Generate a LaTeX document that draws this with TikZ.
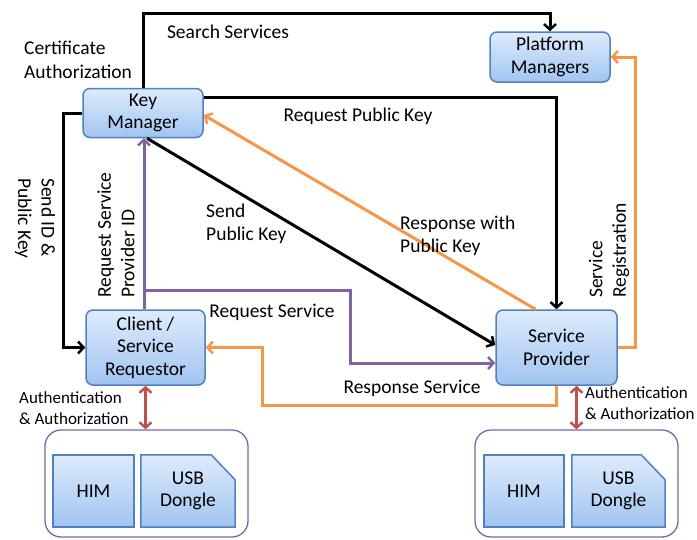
\documentclass[tikz,border=0pt]{standalone}
\usepackage{fontspec}
\setmainfont{Carlito}
\usetikzlibrary{arrows.meta,calc}
\definecolor{bborder}{RGB}{79,129,189}
\definecolor{btop}{RGB}{222,235,252}
\definecolor{bbot}{RGB}{160,196,240}
\definecolor{oran}{RGB}{247,150,70}
\definecolor{purp}{RGB}{128,100,162}
\definecolor{redd}{RGB}{192,80,77}
\tikzset{
  box/.style={draw=bborder, line width=1.5pt, rounded corners=7pt, top color=btop, bottom color=bbot,
    inner sep=0pt, align=center, font=\fontsize{19.5}{22.5}\selectfont},
  sqbox/.style={draw=bborder, line width=1.5pt, top color=btop, bottom color=bbot,
    inner sep=0pt, align=center, font=\fontsize{19.5}{22.5}\selectfont},
  usbshape/.style={draw=bborder, line width=1.5pt, top color=btop, bottom color=bbot},
  plain/.style={inner sep=0pt, align=center, font=\fontsize{19.5}{22.5}\selectfont},
  contain/.style={draw=purp, line width=1.3pt, rounded corners=16pt, inner sep=0pt},
  lbl/.style={inner sep=0pt, align=left, font=\fontsize{19.5}{23.5}\selectfont},
  smlbl/.style={inner sep=0pt, align=left, font=\fontsize{17}{21.5}\selectfont},
  conn/.style={line width=3pt, -{Straight Barb[length=5.5pt,width=12pt,line width=2.5pt]}},
  cconn/.style={line width=3pt, -{Straight Barb[length=5.5pt,width=12pt,line width=2.5pt]}},
  dbl/.style={line width=2.8pt, color=redd, {Straight Barb[length=5.5pt,width=12pt,line width=2.4pt]}-{Straight Barb[length=5.5pt,width=12pt,line width=2.4pt]}}
}
\begin{document}
\begin{tikzpicture}[x=1pt,y=-1pt]
\useasboundingbox (0,0) rectangle (697,539);
% containers
\node[contain, minimum width=203pt, minimum height=107pt] (lc) at (146.5,483.5) {};
\node[contain, minimum width=203pt, minimum height=107pt] (rc) at (576.5,483.5) {};
% main boxes
\node[box, minimum width=120pt, minimum height=49pt] (km) at (143,113) {Key\\Manager};
\node[box, minimum width=120pt, minimum height=50pt] (pm) at (550,57) {Platform\\Managers};
\node[box, minimum width=119pt, minimum height=75pt] (cl) at (145.5,347.5) {Client /\\Service\\Requestor};
\node[box, minimum width=121pt, minimum height=75pt] (sp) at (556.5,347.5) {Service\\Provider};
% devices
\node[sqbox, minimum width=81pt, minimum height=72pt] (him1) at (93.5,491) {HIM};
\node[inner sep=0pt, minimum width=94pt, minimum height=72pt] (usb1) at (188,491) {};
\path[usbshape] (usb1.south west) -- (usb1.north west) -- ([xshift=-24pt]usb1.north east)
  -- ([yshift=-25pt]usb1.north east) -- (usb1.south east) -- cycle;
\node[plain] (usb1t) at (usb1.center) {USB\\Dongle};
\node[sqbox, minimum width=80pt, minimum height=72pt] (him2) at (524,491) {HIM};
\node[inner sep=0pt, minimum width=93pt, minimum height=72pt] (usb2) at (618.5,491) {};
\path[usbshape] (usb2.south west) -- (usb2.north west) -- ([xshift=-24pt]usb2.north east)
  -- ([yshift=-25pt]usb2.north east) -- (usb2.south east) -- cycle;
\node[plain] (usb2t) at (usb2.center) {USB\\Dongle};
% helper coordinates
\coordinate (s1) at (0,13);
\coordinate (c3) at (63,0);
\coordinate (p2) at (350,290);
\coordinate (r1) at (262,405);
\coordinate (r3) at (635,0);
% black connectors
\draw[conn] (km.north) -- (km.north |- s1) -| (pm.north);
\draw[conn] ([yshift=16pt]km.east) -| (sp.north);
\draw[conn] (km.west) -- (km.west -| c3) |- (cl.west);
\draw[conn] ([xshift=4pt]km.south) -- ([yshift=2.5pt]sp.west);
% orange
\draw[cconn, oran] ([xshift=-21pt]sp.north) -- ([yshift=-2pt]km.east);
\draw[cconn, oran] (sp.south) |- (r1) |- (cl.east);
\draw[cconn, oran] (sp.east) -- (sp.east -| r3) |- (pm.east);
% purple
\draw[cconn, purp] ([xshift=-1.5pt]cl.north) -- ([xshift=-1.5pt]cl.north |- km.south);
\draw[cconn, purp] ([xshift=-1.5pt]cl.north |- p2) -- (p2) |- ([yshift=-15.5pt]sp.west);
% red
\draw[dbl] (cl.south) -- (cl.south |- lc.north);
\draw[dbl] (rc.north |- sp.south) -- (rc.north);
% labels
\node[lbl] (t1) at (228,32) {Search Services};
\node[lbl, anchor=west] (t2) at (24,60) {Certificate\\Authorization};
\node[lbl] (t3) at (358,116) {Request Public Key};
\node[lbl, anchor=west, rotate=-90] (t4) at (35,178) {Send ID \&\\Public Key};
\node[lbl, anchor=west, rotate=90] (t5) at (116,298) {Request Service\\Provider ID};
\node[lbl, anchor=west] (t6) at (206,224) {Send\\Public Key};
\node[lbl, anchor=west] (t7) at (400,236) {Response with\\Public Key};
\node[lbl, anchor=west, rotate=90] (t8) at (609,298) {Service\\Registration};
\node[lbl] (t9) at (272,312) {Request Service};
\node[lbl] (t10) at (412,388) {Response Service};
\node[smlbl, anchor=west] (t11) at (19,408) {Authentication\\\& Authorization};
\node[smlbl, anchor=west] (t12) at (585,403) {Authentication\\\& Authorization};
\end{tikzpicture}
\end{document}
